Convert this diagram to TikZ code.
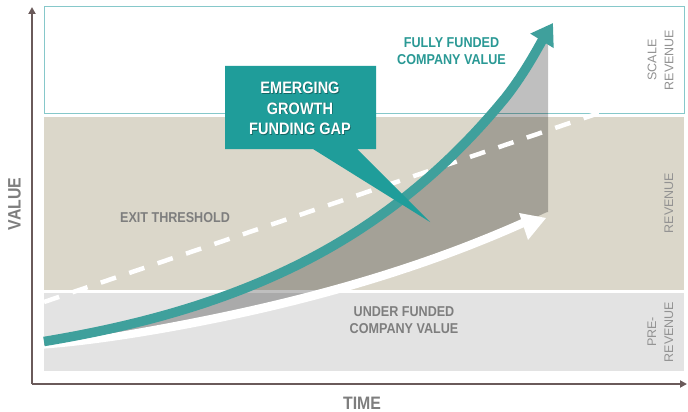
\documentclass[tikz,border=0pt]{standalone}
\usepackage{fontspec}
\setmainfont{Liberation Sans}
\newfontfamily\cf[FakeStretch=0.88]{Liberation Sans}
\usetikzlibrary{arrows.meta}
\definecolor{tealA}{HTML}{1F9D9A}
\definecolor{tealC}{HTML}{3FA09C}
\definecolor{tealT}{HTML}{2A9995}
\definecolor{tealE}{HTML}{86C8CA}
\definecolor{beige}{HTML}{DBD7CA}
\definecolor{prerev}{HTML}{E3E3E3}
\definecolor{axisc}{HTML}{6A5A5A}
\definecolor{greytext}{HTML}{7E7E7E}
\definecolor{sidetext}{HTML}{929292}
\tikzset{
  axisline/.style={draw=axisc, line width=2pt, -{Triangle[length=7pt,width=7pt]}},
  calltext/.style={font=\cf\bfseries\fontsize{16.5}{20.5}\selectfont, text=white, inner sep=0pt, align=center},
  callshadow/.style={calltext, text=black, text opacity=0.35},
  fulltext/.style={font=\cf\bfseries\fontsize{14.3}{16.5}\selectfont, text=tealT, inner sep=0pt, align=center},
  greylab/.style={font=\cf\bfseries\fontsize{14.3}{17}\selectfont, text=greytext, inner sep=0pt, align=center},
  sidelab/.style={font=\fontsize{12.5}{17}\selectfont, text=sidetext, inner sep=0pt, align=center, rotate=90},
  axislab/.style={font=\cf\bfseries\fontsize{18}{20}\selectfont, text=greytext, inner sep=0pt},
}
\begin{document}
\begin{tikzpicture}[x=1pt,y=-1pt]
\useasboundingbox (0,0) rectangle (688,412);
\fill[white] (0,0) rectangle (688,412);

% bands
\draw[tealE, line width=1pt, fill=white] (44,7) rectangle (684,113);
\fill[beige] (44,117) rectangle (684,290);
\fill[prerev] (44,293) rectangle (684,371);

% funding gap region
\fill[black, opacity=0.25]
  plot[domain=44:519, samples=60] (\x, {380-38.5*exp(0.004322*(\x-44))})
  -- (548,33) -- (548,212)
  -- plot[domain=0:502, samples=60] ({546-\x}, {400-53*exp(0.00252*(502-\x))})
  -- cycle;

% exit threshold dashed line
\coordinate (exitA) at (44,302);
\coordinate (exitB) at (602,112);
\draw[white, line width=4.5pt, dash pattern=on 16pt off 14pt] (exitA) -- (exitB);

% under funded (white) curve, tapered
\fill[white]
  plot[domain=44:524, samples=60] (\x, {400-53*exp(0.00252*(\x-44)) - (4.6-3*exp(-(\x-44)/50))})
  -- plot[domain=0:480, samples=60] ({524-\x}, {400-53*exp(0.00252*(480-\x)) + (4.6-3*exp(-(480-\x)/50))})
  -- cycle;
\fill[white] (519,213) -- (546,218) -- (528,240) -- cycle;

% fully funded (teal) curve
\coordinate (tealTip) at (553,23);
\draw[tealC, line width=9.5pt, line join=round, -{Triangle[length=21pt,width=26pt]}]
  plot[domain=44:505, samples=60] (\x, {380-38.5*exp(0.004322*(\x-44))})
  .. controls (525,73) and (540,44) .. (tealTip);

% axes
\coordinate (origin) at (32,384);
\coordinate (ytop) at (32,7);
\coordinate (xend) at (687,384);
\draw[axisline] (origin) -- (ytop);
\draw[axisline] (origin) -- (xend);

% callout
\fill[tealA] (225,66) -- (376,66) -- (376,149) -- (357,149) -- (430,222) -- (313,149) -- (225,149) -- cycle;
\node[callshadow] (gapshadow) at (300.8,109.3) {EMERGING\\GROWTH\\FUNDING GAP};
\node[calltext] (gap) at (300,108.5) {EMERGING\\GROWTH\\FUNDING GAP};

% labels
\node[fulltext] (full) at (451.5,51.25) {FULLY FUNDED\\COMPANY VALUE};
\node[greylab] (exit) at (175,218) {EXIT THRESHOLD};
\node[greylab] (under) at (404,320.5) {UNDER FUNDED\\COMPANY VALUE};
\node[sidelab] (scale) at (660.5,60) {SCALE\\REVENUE};
\node[sidelab] (rev) at (669,203) {REVENUE};
\node[sidelab] (pre) at (660.5,332) {PRE-\\REVENUE};
\node[axislab, rotate=90] (value) at (14.5,204) {VALUE};
\node[axislab] (time) at (362,403) {TIME};
\end{tikzpicture}
\end{document}
